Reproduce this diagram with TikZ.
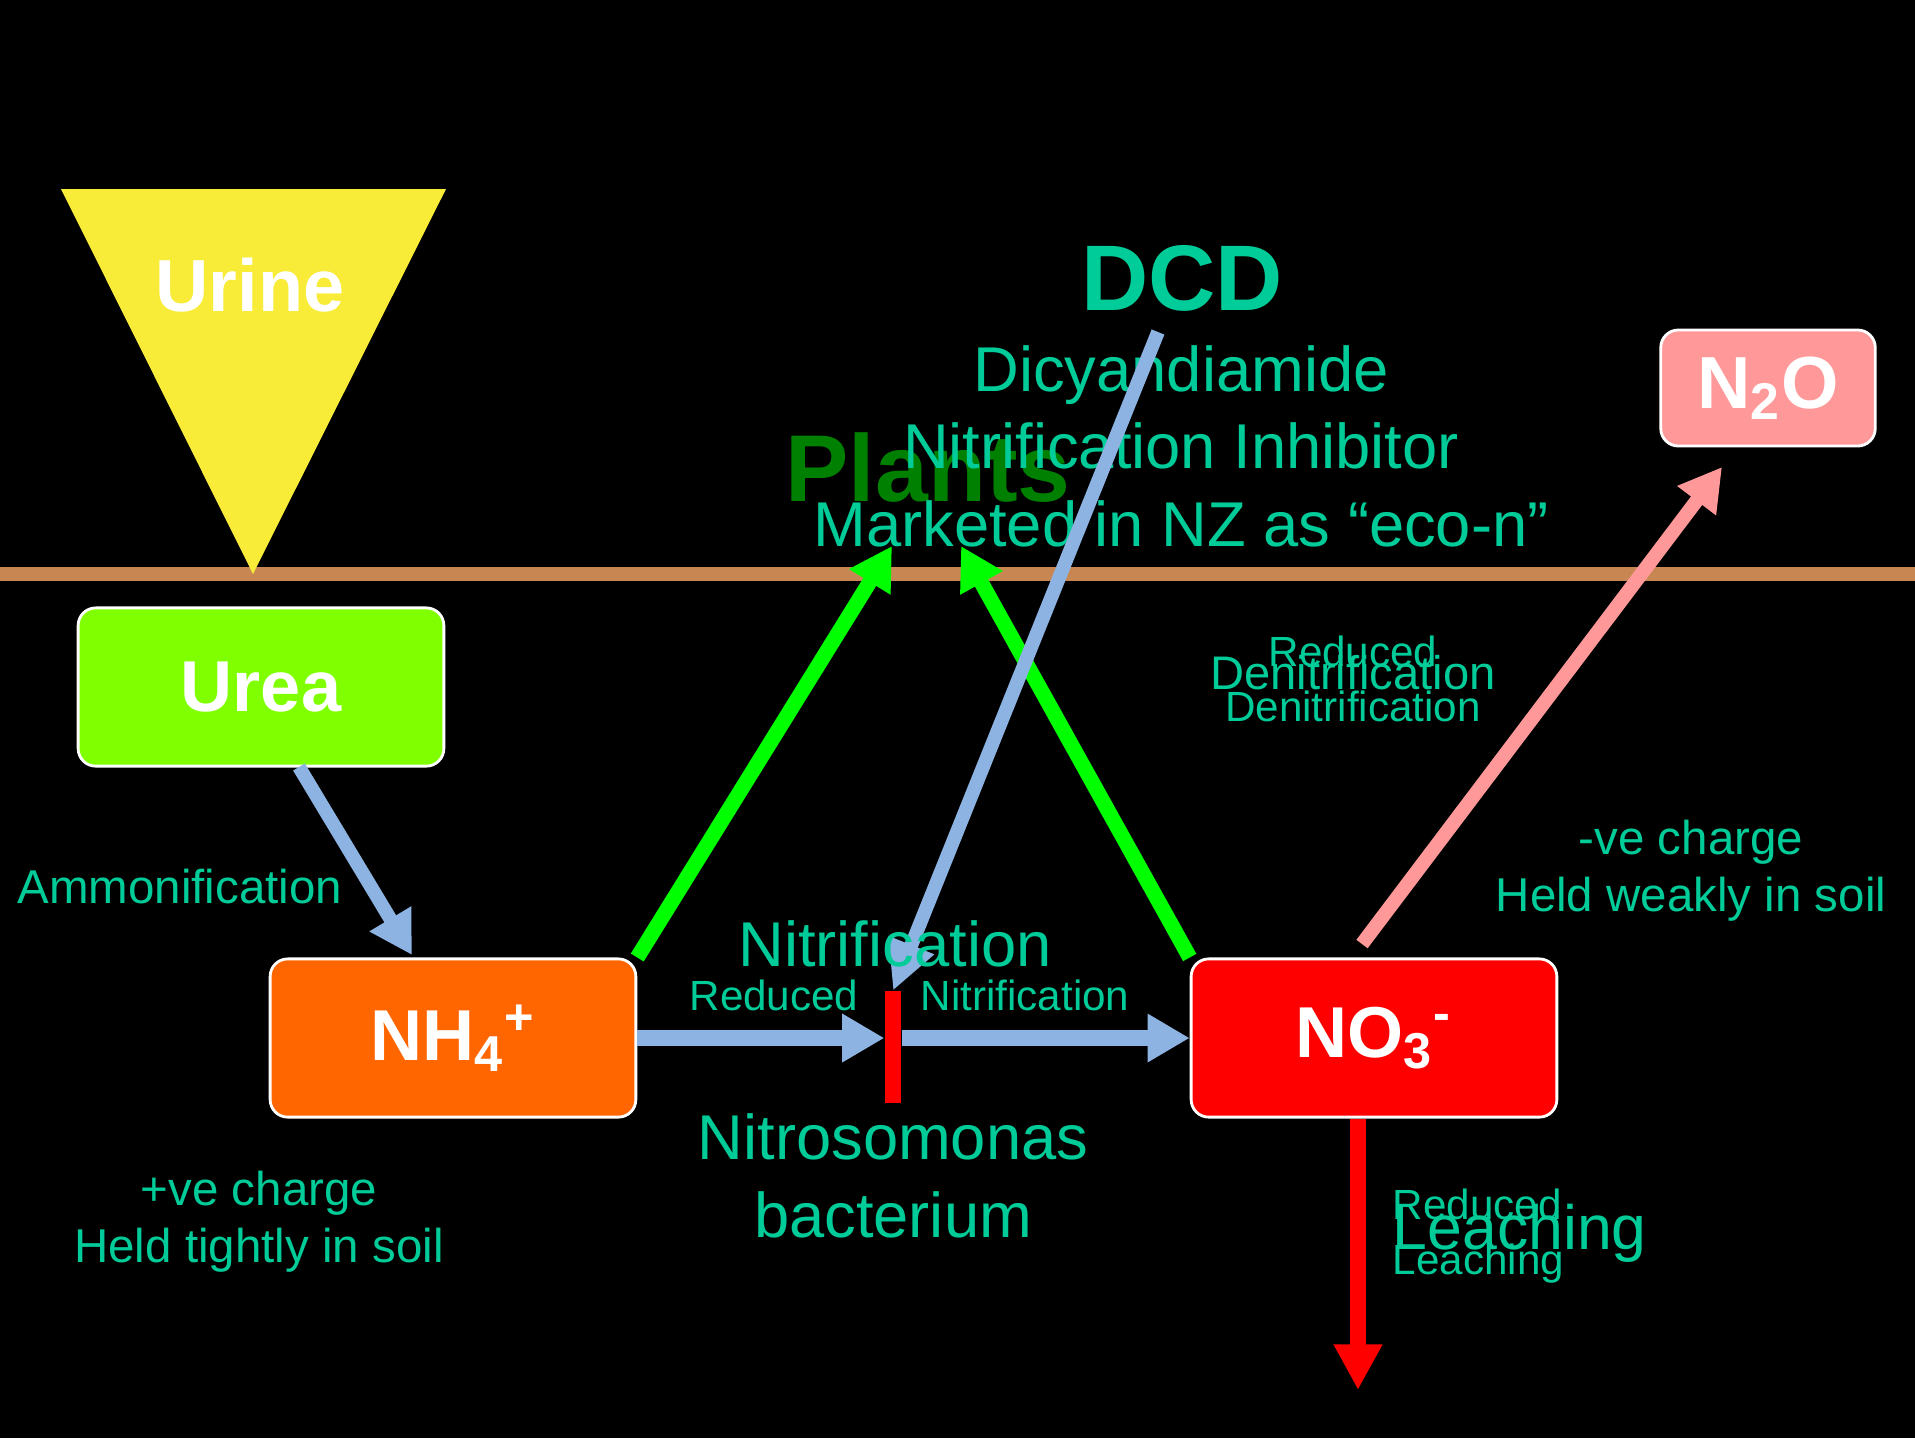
\documentclass[tikz,border=0pt]{standalone}
\usepackage{fontspec}
\setmainfont{Liberation Sans}
\usetikzlibrary{positioning, arrows.meta}

\definecolor{txtteal}{RGB}{0,204,153}
\definecolor{flowblue}{RGB}{141,179,226}
\definecolor{soilbrown}{RGB}{200,134,82}
\definecolor{urineyellow}{RGB}{248,236,56}
\definecolor{ureagreen}{RGB}{128,255,0}
\definecolor{nhorange}{RGB}{255,102,0}
\definecolor{nopink}{RGB}{255,153,153}
\definecolor{plantgreen}{RGB}{0,128,0}

\tikzset{
    box/.style={draw=white, line width=0.8pt, rounded corners=5pt, inner sep=0pt,
        minimum width=104pt, minimum height=45pt, text=white,
        font=\bfseries\fontsize{20.5}{24}\selectfont},
    lbl/.style={text=txtteal, inner sep=0pt, align=center},
    lblsmall/.style={lbl, font=\fontsize{12}{15.5}\selectfont},
    lblmid/.style={lbl, font=\fontsize{13.5}{16.3}\selectfont},
    lblbig/.style={lbl, font=\fontsize{17.8}{22}\selectfont},
    flow/.style={draw=flowblue, line width=3.9pt, -{Triangle[length=12pt,width=13pt]}},
    uptake/.style={draw=green, line width=4.3pt, -{Triangle[length=12pt,width=13pt]}},
    emission/.style={draw=nopink, line width=4pt, -{Triangle[length=12pt,width=13pt]}},
    leachflow/.style={draw=red, line width=4.3pt, -{Triangle[length=13pt,width=13pt]}},
}

\begin{document}
\begin{tikzpicture}[x=0.01cm, y=-0.01cm]
\fill[black] (0,0) rectangle (1915,1438);
\useasboundingbox (0,0) rectangle (1915,1438);

% soil surface and urine patch
\draw[soilbrown, line width=3.8pt] (0,574) -- (1915,574);
\fill[urineyellow] (61,189) -- (446,189) -- (253,574) -- cycle;
\node[text=white, inner sep=0pt, font=\bfseries\fontsize{21}{24}\selectfont] (urine) at (250,285) {Urine};

% N forms
\node[box, fill=ureagreen] (urea) at (261,687) {Urea};
\node[box, fill=nhorange] (nh4) at (453,1038) {NH\textsubscript{4}\textsuperscript{+}};
\node[box, fill=red] (no3) at (1374,1038) {NO\textsubscript{3}\textsuperscript{-}};
\node[box, fill=nopink, minimum width=61pt, minimum height=33pt,
    font=\bfseries\fontsize{21}{24}\selectfont] (n2o) at (1768,388) {N\textsubscript{2}O};

% plants and DCD
\node[text=plantgreen, inner sep=0pt, font=\bfseries\fontsize{27}{30}\selectfont] (plants) at (928,468) {Plants};
\node[lbl, font=\bfseries\fontsize{26.5}{30}\selectfont] (dcd) at (1182,278) {DCD};
\node[lbl, font=\fontsize{18}{22}\selectfont] (dcdinfo) at (1181,446)
    {Dicyandiamide\\Nitrification Inhibitor\\Marketed in NZ as “eco-n”};

\node[fill=red, inner sep=0pt, minimum width=4.5pt, minimum height=31.6pt] (stopbar) at (893,1047) {};

% connectors
\coordinate (ureaout) at (299,767);
\coordinate (nhin) at (412,955);
\coordinate (plantsL) at (892,546);
\coordinate (plantsR) at (961,546);
\coordinate (dcdtail) at (1158,332);
\coordinate (no3out) at (1362,944);
\coordinate (n2oin) at (1722,467);
\coordinate (leachout) at (1358,1390);

\draw[flow] (ureaout) -- (nhin);
\draw[uptake] (nh4.north east) -- (plantsL);
\draw[uptake] (no3.north west) -- (plantsR);
\draw[flow, line width=4.3pt] (nh4.east) -- (nh4.east -| stopbar.west);
\draw[flow, line width=4.3pt] (nh4.east -| stopbar.east) -- (no3.west);
\draw[flow, -{Triangle[length=14pt,width=13pt]}] (dcdtail) -- (stopbar.north);
\draw[emission] (no3out) -- (n2oin);
\draw[leachflow] (no3.south -| leachout) -- (leachout);

% labels
\node[lblmid, anchor=west] (amm) at (17,887) {Ammonification};
\node[lbl, font=\fontsize{18}{22}\selectfont] (nitrif) at (895,944) {Nitrification};
\node[lblsmall] (rednit) at (774,995) {Reduced};
\node[lblsmall] (nitsmall) at (1025,995) {Nitrification};
\node[lbl, font=\fontsize{18}{22}\selectfont] (bact) at (893,1176) {Nitrosomonas\\bacterium};
\node[lblmid] (pos) at (259,1222) {+ve charge\\Held tightly in soil};
\node[lblmid] (neg) at (1691,871) {-ve charge\\Held weakly in soil};
\node[lblsmall] (reddenit) at (1353,679) {Reduced\\Denitrification};
\node[lbl, font=\fontsize{13.4}{16}\selectfont] (denit) at (1353,673) {Denitrification};
\node[lblsmall, anchor=west, align=left] (redleach) at (1392,1236) {Reduced\\Leaching};
\node[lblbig, anchor=west] (leach) at (1392,1233) {Leaching};
\end{tikzpicture}
\end{document}
